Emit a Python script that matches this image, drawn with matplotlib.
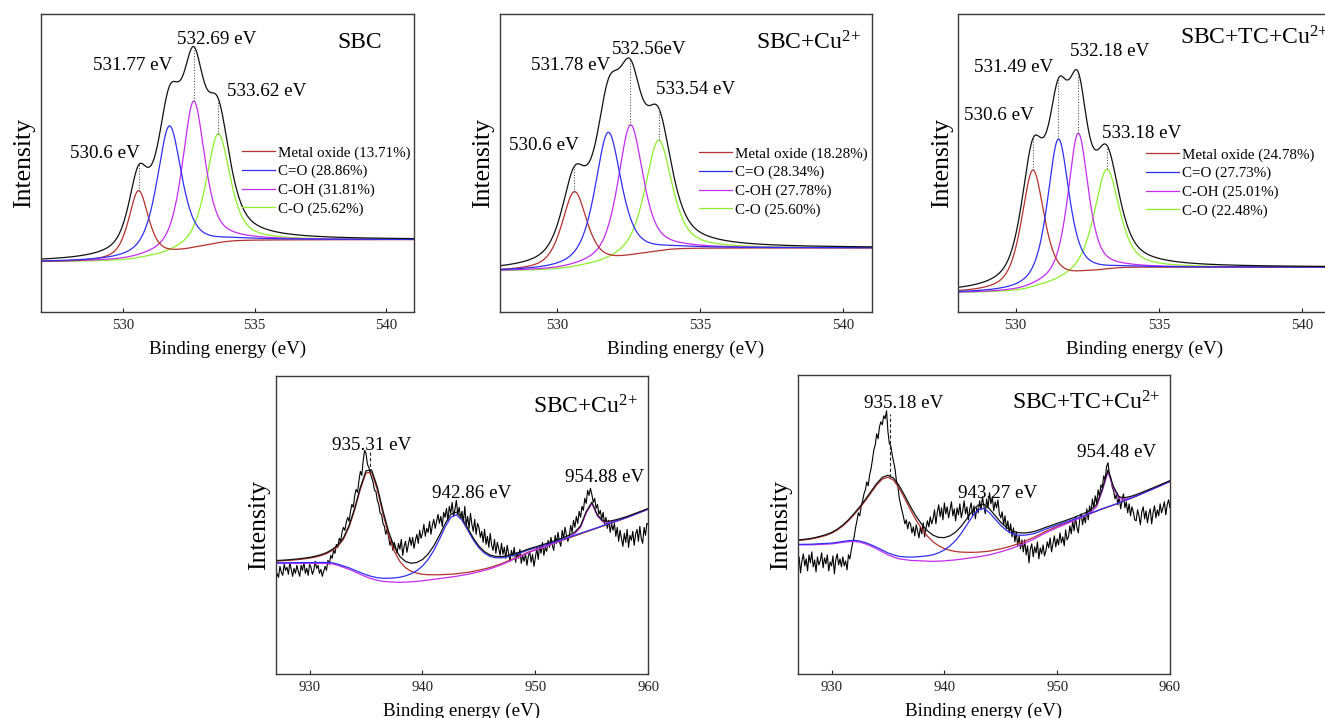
import numpy as np
import matplotlib
matplotlib.use("Agg")
import matplotlib.pyplot as plt
from matplotlib.lines import Line2D

plt.rcParams["font.family"] = ["Liberation Serif", "DejaVu Serif"]
plt.rcParams["mathtext.fontset"] = "custom"
plt.rcParams["mathtext.rm"] = "Liberation Serif"
plt.rcParams["mathtext.it"] = "Liberation Serif:italic"
plt.rcParams["mathtext.bf"] = "Liberation Serif:bold"

# ---------------- O 1s spectra (fitted components) ----------------
o1s_names = ["Metal oxide", "C=O", "C-OH", "C-O"]
o1s_colors = ["#B5312C", "#2F2FF5", "#C62BF0", "#8CF02A"]

sbc_centers = [530.60, 531.77, 532.69, 533.62]
sbc_heights = [69, 129, 148, 110]
sbc_fwhm = [0.90, 1.12, 1.02, 1.08]
sbc_shares = [13.71, 28.86, 31.81, 25.62]
sbc_bg_ends = [50.0, 72.3]

sbccu_centers = [530.60, 531.78, 532.56, 533.54]
sbccu_heights = [77, 131, 133, 112]
sbccu_fwhm = [1.05, 1.10, 1.05, 1.12]
sbccu_shares = [18.28, 28.34, 27.78, 25.60]
sbccu_bg_ends = [40.7, 64.0]

sbctc_centers = [530.60, 531.49, 532.18, 533.18]
sbctc_heights = [119, 144, 144, 102]
sbctc_fwhm = [0.95, 0.90, 0.85, 1.05]
sbctc_shares = [24.78, 27.73, 25.01, 22.48]
sbctc_bg_ends = [19.0, 44.7]

# ---------------- Cu 2p spectra ----------------
cu_colors = ["#B5312C", "#2F2FF5", "#C62BF0"]

cu_centers = [935.31, 942.86, 954.88]
cu_heights = [108, 62, 28]
cu_fwhm = [3.0, 3.5, 1.1]
cu_eta = [0.65, 0.7, 0.7]

tccu_centers = [935.18, 943.27, 954.48]
tccu_heights = [78, 48, 36]
tccu_fwhm = [4.8, 3.8, 1.0]
tccu_eta = [0.7, 0.8, 0.6]

# background under the Cu 2p fit, 0.5 eV steps from 927 to 960 eV
cu_background = [
    111, 111, 111, 111, 111, 111, 111, 111,
    111, 110.8, 110.5, 109, 107, 105, 102.5, 100,
    97.5, 95.5, 94, 93, 92.5, 92.2, 92, 92.2,
    92.5, 93, 93.5, 94.2, 95, 95.7, 96.5, 97.2,
    98, 99, 100, 101.2, 102.5, 104, 105.5, 107.5,
    109.5, 112, 114.5, 117, 119.5, 122, 124, 126,
    128, 130, 132, 134, 136, 138, 140, 142,
    144, 146, 148, 150, 152, 154, 156, 158.2,
    160.5, 162.7, 165,
]
tccu_background = [
    129, 129, 129, 129.2, 129.5, 129.7, 130, 130.7,
    131.5, 132.2, 132.5, 131.7, 130, 127.7, 125, 122,
    119, 116.8, 115, 114.2, 113.5, 113.2, 113, 112.7,
    112.5, 112.7, 113, 113.5, 114, 114.7, 115.5, 116.2,
    117, 118, 119, 120.5, 122, 123.7, 125.5, 127.7,
    130, 132.5, 135, 138, 141, 143.5, 146, 148.2,
    150.5, 152.7, 155, 157.2, 159.5, 161.7, 164, 166,
    168, 170.2, 172.5, 174.7, 177, 179.5, 182, 184.5,
    187, 189.5, 192,
]

# measured Cu 2p counts, 0.125 eV steps from 927 to 960 eV
cu_counts = [
    93, 101, 97, 108, 102, 99, 110, 104, 107, 100, 112, 105, 98, 106, 101, 109,
    103, 98, 109, 104, 112, 101, 106, 99, 110, 107, 100, 104, 113, 106, 109, 101,
    105, 98, 103, 108, 104, 114, 110, 119, 116, 124, 121, 130, 127, 136, 133, 142,
    147, 144, 152, 157, 153, 163, 170, 167, 179, 185, 182, 194, 203, 199, 214, 224,
    221, 210, 207, 201, 197, 192, 184, 183, 174, 170, 161, 160, 151, 148, 140, 145,
    137, 129, 134, 124, 132, 127, 121, 131, 125, 135, 119, 128, 133, 122, 130, 137,
    129, 137, 126, 134, 140, 131, 144, 136, 141, 150, 138, 146, 142, 153, 140, 149,
    155, 146, 153, 160, 151, 158, 148, 162, 157, 166, 154, 168, 161, 172, 158, 165,
    174, 160, 167, 156, 163, 152, 168, 149, 158, 146, 161, 150, 143, 155, 140, 151,
    147, 137, 143, 132, 145, 130, 138, 127, 141, 129, 124, 135, 121, 132, 126, 119,
    131, 120, 127, 116, 129, 121, 113, 124, 118, 127, 112, 122, 116, 125, 111, 119,
    113, 121, 109, 118, 123, 112, 120, 108, 117, 126, 115, 129, 121, 132, 119, 127,
    123, 134, 127, 137, 129, 124, 139, 131, 142, 133, 128, 144, 136, 147, 139, 133,
    138, 149, 142, 154, 147, 158, 151, 163, 157, 168, 164, 176, 171, 184, 179, 186,
    180, 172, 176, 166, 170, 160, 164, 155, 162, 150, 157, 146, 154, 142, 151, 144,
    151, 138, 147, 133, 144, 136, 128, 141, 132, 145, 127, 139, 134, 143, 129, 140,
    145, 133, 148, 136, 131, 147, 139, 151, 150,
]
tccu_counts = [
    106, 117, 101, 113, 120, 108, 115, 103, 119, 111, 122, 107, 114, 102, 117, 109,
    113, 121, 106, 116, 110, 119, 103, 112, 108, 118, 100, 114, 120, 109, 115, 107,
    117, 108, 113, 104, 119, 115, 124, 131, 137, 146, 153, 161, 158, 167, 173, 180,
    184, 192, 188, 199, 205, 214, 224, 229, 240, 235, 247, 252, 249, 258, 255, 263,
    242, 230, 228, 219, 212, 205, 193, 188, 176, 169, 163, 157, 150, 154, 145, 152,
    150, 141, 147, 138, 149, 143, 136, 147, 140, 151, 137, 146, 153, 147, 157, 150,
    155, 164, 150, 162, 169, 157, 166, 154, 171, 160, 167, 156, 164, 172, 158, 165,
    153, 166, 159, 170, 156, 163, 173, 160, 167, 154, 165, 171, 158, 168, 155, 166,
    161, 173, 164, 177, 168, 160, 175, 166, 181, 170, 177, 163, 172, 166, 174, 160,
    156, 162, 149, 158, 145, 153, 141, 150, 137, 146, 132, 142, 128, 138, 125, 134,
    122, 134, 119, 128, 111, 125, 130, 117, 127, 121, 132, 115, 126, 120, 129, 118,
    123, 132, 126, 136, 122, 130, 138, 127, 135, 129, 141, 131, 137, 128, 144, 134,
    137, 148, 140, 153, 143, 157, 146, 141, 155, 160, 149, 158, 151, 165, 154, 168,
    161, 175, 166, 178, 170, 184, 177, 189, 186, 198, 194, 207, 211, 200, 196, 187,
    183, 175, 180, 169, 177, 165, 173, 180, 166, 172, 161, 170, 158, 167, 162, 154,
    153, 164, 158, 149, 162, 167, 155, 163, 151, 160, 165, 150, 161, 168, 156, 164,
    158, 170, 161, 166, 172, 159, 169, 174, 166,
]

FS_TICK = 10.6
FS_LEG = 10.8
FS_PEAK = 13.7
FS_TITLE = 17
FS_XLAB = 13.7
FS_YLAB = 18.5
LW = 0.9


def pseudo_voigt(x, center, height, fwhm, eta):
    half = fwhm / 2.0
    lor = 1.0 / (1.0 + ((x - center) / half) ** 2)
    gau = np.exp(-4 * np.log(2) * ((x - center) / fwhm) ** 2)
    return height * (eta * lor + (1 - eta) * gau)


def style_axes(ax, xlim, ylim, ticks):
    ax.set_xlim(*xlim)
    ax.set_ylim(*ylim)
    ax.set_xticks(ticks)
    ax.set_yticks([])
    ax.tick_params(axis="x", direction="in", length=3, width=0.8,
                   labelsize=FS_TICK, pad=5, colors="#222222")
    for sp in ax.spines.values():
        sp.set_color("#3a3a3a")
        sp.set_linewidth(1.0)
    ax.set_xlabel("Binding energy (eV)", fontsize=FS_XLAB, labelpad=6)
    ax.set_ylabel("Intensity", fontsize=FS_YLAB, labelpad=4)


def o1s_panel(ax, centers, heights, fwhm, shares, bg_ends, xlim,
              peak_text, units, title, title_pos, title_ha,
              leg_anchor, dotted):
    x = np.linspace(xlim[0], xlim[1], 800)
    comps = [pseudo_voigt(x, c, h, w, 0.65)
             for c, h, w in zip(centers, heights, fwhm)]
    total = np.sum(comps, axis=0)
    area = np.cumsum(total)
    bg = bg_ends[0] + (bg_ends[1] - bg_ends[0]) * area / area[-1]
    envelope = bg + total
    for i in [3, 2, 0, 1]:
        ax.plot(x, bg + comps[i], color=o1s_colors[i], lw=LW)
    ax.plot(x, envelope, color="#111111", lw=LW)
    for i in dotted:
        j = np.argmin(np.abs(x - centers[i]))
        ax.vlines(centers[i], bg[j] + comps[i][j], envelope[j],
                  colors="#555555", linestyles=(0, (1, 1.5)), lw=0.8)
    for c, u, (tx, ty) in zip(centers, units, peak_text):
        ax.text(tx, ty, f"{c:g}{u}", fontsize=FS_PEAK,
                ha="center", va="center")
    ax.text(title_pos[0], title_pos[1], title, fontsize=FS_TITLE,
            ha=title_ha, va="center")
    handles = [Line2D([], [], color=o1s_colors[i], lw=LW) for i in range(4)]
    labels = [f"{n} ({s:.2f}%)" for n, s in zip(o1s_names, shares)]
    ax.legend(handles, labels, loc="upper left", bbox_to_anchor=leg_anchor,
              frameon=False, fontsize=FS_LEG, handlelength=2.2,
              handletextpad=0.2, labelspacing=0.33, borderpad=0,
              borderaxespad=0)
    style_axes(ax, xlim, (0, 298), [530, 535, 540])


def cu_panel(ax, centers, heights, fwhm, eta, background, counts,
             peak_text, title, title_pos, dash_top):
    xf = np.linspace(927, 960, len(background))
    xr = np.linspace(927, 960, len(counts))
    bg = np.asarray(background, dtype=float)
    raw = np.asarray(counts, dtype=float)
    comps = [pseudo_voigt(xf, c, h, w, e)
             for c, h, w, e in zip(centers, heights, fwhm, eta)]
    envelope = bg + np.sum(comps, axis=0)
    ax.plot(xr, raw, color="#000000", lw=0.8)
    for i in [0, 2, 1]:
        ax.plot(xf, bg + comps[i], color=cu_colors[i], lw=LW)
    ax.plot(xf, envelope, color="#111111", lw=LW)
    # dashed marker for the main 2p3/2 line
    c0 = centers[0]
    j = np.argmin(np.abs(xf - c0))
    near = np.abs(xr - c0) < 0.6
    top = dash_top if dash_top else raw[near].max()
    ax.vlines(c0, bg[j] + comps[0][j], top, colors="#222222",
              linestyles=(0, (3, 2)), lw=0.8)
    for c, (tx, ty) in zip(centers, peak_text):
        ax.text(tx, ty, f"{c:g} eV", fontsize=FS_PEAK,
                ha="center", va="center")
    ax.text(title_pos[0], title_pos[1], title, fontsize=FS_TITLE,
            ha="center", va="center")
    style_axes(ax, (927, 960), (0, 298.7), [930, 940, 950, 960])


W, H = 1325, 718
fig = plt.figure(figsize=(W / 100, H / 100), dpi=100)
fig.patch.set_facecolor("white")


def add_axes(left, top, right, bottom):
    return fig.add_axes([left / W, 1 - bottom / H, (right - left) / W,
                         (bottom - top) / H])


ax1 = add_axes(41, 14, 414, 312)
ax2 = add_axes(500, 14, 872, 312)
ax3 = add_axes(958.3, 14, 1331, 312)
ax4 = add_axes(275.7, 375.7, 648.3, 674.3)
ax5 = add_axes(797.7, 375, 1170, 674)

CU2 = r"Cu$^{2\!+}$"

o1s_panel(ax1, sbc_centers, sbc_heights, sbc_fwhm, sbc_shares, sbc_bg_ends,
          (526.9, 541.05),
          [(529.33, 159), (530.36, 247), (533.58, 273), (535.48, 221)],
          [" eV", " eV", " eV", " eV"],
          "SBC", (538.98, 269), "center", (0.539, 0.557), [0, 2, 3])
o1s_panel(ax2, sbccu_centers, sbccu_heights, sbccu_fwhm, sbccu_shares,
          sbccu_bg_ends, (528.0, 541.0),
          [(529.52, 167), (530.48, 247), (533.23, 262), (534.84, 222)],
          [" eV", " eV", "eV", " eV"],
          "SBC+" + CU2, (538.78, 269), "center", (0.535, 0.553), [0, 2, 3])
o1s_panel(ax3, sbctc_centers, sbctc_heights, sbctc_fwhm, sbctc_shares,
          sbctc_bg_ends, (528.0, 541.0),
          [(529.42, 197), (529.94, 244), (533.29, 260), (534.39, 179)],
          [" eV", " eV", " eV", " eV"],
          "SBC+TC+" + CU2, (535.73, 274), "left", (0.503, 0.550),
          [0, 1, 2, 3])

cu_panel(ax4, cu_centers, cu_heights, cu_fwhm, cu_eta, cu_background,
         cu_counts, [(935.5, 229.3), (944.37, 181), (956.17, 196.6)],
         "SBC+" + CU2, (954.47, 267.6), None)
cu_panel(ax5, tccu_centers, tccu_heights, tccu_fwhm, tccu_eta,
         tccu_background, tccu_counts,
         [(936.42, 270.7), (944.71, 180.7), (955.28, 221.3)],
         "SBC+TC+" + CU2, (952.54, 270.7), 260)

fig.savefig("out.png", dpi=100)
